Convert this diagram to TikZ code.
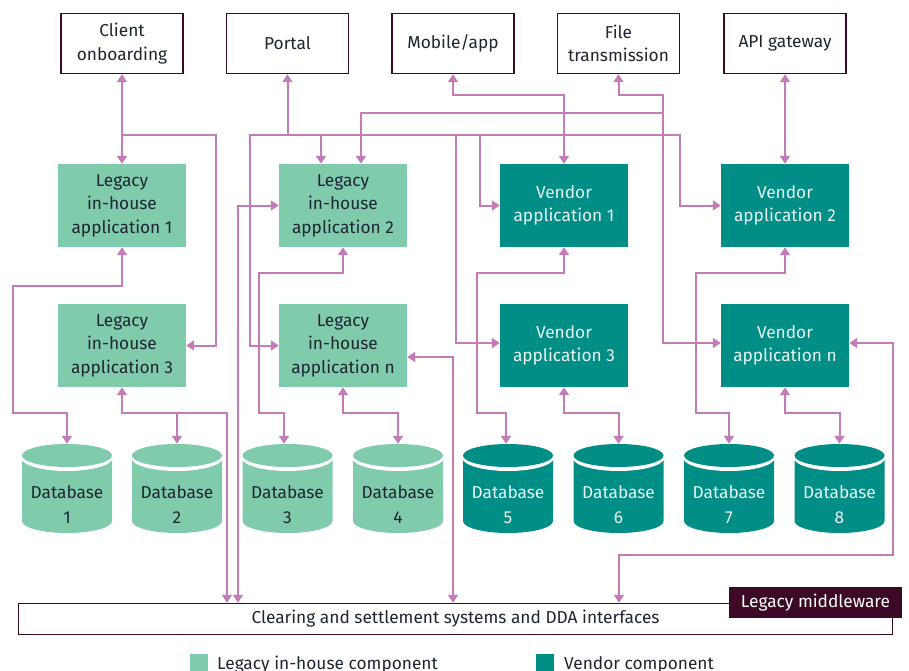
\documentclass[tikz,border=0pt]{standalone}
\usepackage{fontspec}
\setmainfont{Fira Sans}
\usetikzlibrary{arrows.meta}
\definecolor{pk}{HTML}{C47CB8}
\definecolor{lg}{HTML}{80CBAC}
\definecolor{vd}{HTML}{008E86}
\definecolor{mr}{HTML}{3C0A24}
\definecolor{tx}{HTML}{1E2533}
\definecolor{vt}{HTML}{E8F5F3}
\newcommand\fsz{\fontsize{17.3pt}{23.5pt}\selectfont}
\tikzset{
  conn/.style={draw=pk,line width=2pt},
  >={Triangle[length=8pt,width=10pt]},
  box/.style={inner sep=0pt,align=center,font=\fsz},
  topbox/.style={box,draw=mr,line width=1.5pt,fill=white,text=tx,minimum width=122pt,minimum height=60pt},
  legbox/.style={box,fill=lg,text=tx,minimum width=128pt,minimum height=83pt},
  venbox/.style={box,fill=vd,text=vt,minimum width=128pt,minimum height=83pt},
  dbn/.style={minimum width=90pt,minimum height=89pt,inner sep=0pt},
  dbt/.style={align=center,inner sep=0pt,font=\fontsize{17.3pt}{25pt}\selectfont},
  pics/dbcyl/.style={code={
    \fill[#1] (-45,-33.5) -- (-45,32.5) arc[start angle=180,end angle=360,x radius=45pt,y radius=12pt] -- (45,-33.5) -- cycle;
    \fill[white] (0,-31) ellipse[x radius=46pt,y radius=13.5pt];
    \fill[#1] (0,-33) ellipse[x radius=45pt,y radius=11.5pt];
  }}
}
\begin{document}
\begin{tikzpicture}[x=1pt,y=-1pt]
\useasboundingbox (0,0) rectangle (909,671);
% top boxes
\node[topbox] (co) at (122,43.5) {Client\\onboarding};
\node[topbox] (po) at (287.5,43.5) {Portal};
\node[topbox] (mo) at (453,43.5) {Mobile/app};
\node[topbox] (ft) at (618.5,43.5) {File\\transmission};
\node[topbox] (api) at (785,43.5) {API gateway};
% applications
\node[legbox] (l1) at (122,205.5) {Legacy\\in-house\\application 1};
\node[legbox] (l2) at (343,205.5) {Legacy\\in-house\\application 2};
\node[legbox] (l3) at (122,345.5) {Legacy\\in-house\\application 3};
\node[legbox] (ln) at (343,345.5) {Legacy\\in-house\\application n};
\node[venbox] (v1) at (564,205.5) {Vendor\\application 1};
\node[venbox] (v2) at (785,205.5) {Vendor\\application 2};
\node[venbox] (v3) at (564,345.5) {Vendor\\application 3};
\node[venbox] (vn) at (785,345.5) {Vendor\\application n};
% databases
\foreach \i/\x/\c/\t in {1/67/lg/tx,2/177/lg/tx,3/287.5/lg/tx,4/398/lg/tx,5/508/vd/vt,6/618.5/vd/vt,7/729/vd/vt,8/839.5/vd/vt}{
  \pic at (\x,488.5) {dbcyl=\c};
  \node[dbn] (db\i) at (\x,488.5) {};
  \node[dbt,text=\t] (db\i t) at (\x,504.5) {Database\\\i};
}
% bottom bar
\node[draw=mr,line width=1.5pt,fill=white,minimum width=874pt,minimum height=31pt,inner sep=0pt,font=\fsz,text=tx] (bar) at (455.5,619) {\raisebox{-1.5pt}{Clearing and settlement systems and DDA interfaces}};
\node[fill=mr,text=white,minimum width=173pt,minimum height=31pt,inner sep=0pt,font=\fsz] (mw) at (815.5,602.5) {Legacy middleware};
% helper coordinates
\coordinate (c227) at (227,0);
\coordinate (c238) at (238,0);
\coordinate (c453) at (453,0);
\coordinate (c619) at (619,0);
\coordinate (jco) at (122,135);
\coordinate (jpo) at (287.5,135);
% upper connectors
\draw[conn,<->] (co.south) -- (l1.north);
\draw[conn,->] (jco) -| (216,345.5) -- (l3.east);
\draw[conn,<-] (po.south) -- (jpo);
\draw[conn,<->] (ln.west) -| (250,135) -- (680,135) |- (v2.west);
\draw[conn,->] (321,135) -- ([xshift=-22pt]l2.north);
\draw[conn,->] (456,135) |- ([yshift=2.5pt]v3.west);
\draw[conn,->] (480,135) |- (v1.west);
\draw[conn,<->] (mo.south) |- (564,95) -- (v1.north);
\draw[conn,<->] (ft.south) |- (663,95) |- ([yshift=2.5pt]vn.west);
\draw[conn,->] (663,113) -| ([xshift=18pt]l2.north);
\draw[conn,<->] (api.south) -- (v2.north);
% lower connectors
\draw[conn,<->] (l1.south) |- (13,286) |- (67,413) -- (db1.north);
\draw[conn,<->] (l3.south) |- (227,413) -- (bar.north -| c227);
\draw[conn,->] (177,413) -- (db2.north);
\draw[conn,<->] (l2.west) -| (bar.north -| c238);
\draw[conn,<->] (l2.south) |- (259,273) |- (284,413) -- ([xshift=-3.5pt]db3.north);
\draw[conn,<->] (ln.south) |- (398,413) -- (db4.north);
\draw[conn,<->] ([yshift=-11.5pt]ln.east) -| (bar.north -| c453);
\draw[conn,<->] (v1.south) |- (477,273) |- (506,413) -- ([xshift=-2pt]db5.north);
\draw[conn,<->] (v3.south) |- (618.5,413) -- (db6.north);
\draw[conn,<->] (v2.south) |- (696,273) |- (729,413) -- (db7.north);
\draw[conn,<->] (vn.south) |- (839.5,413) -- (db8.north);
\draw[conn,<->] ([yshift=2.5pt]vn.east) -| (893,555) -| (bar.north -| c619);
% legend
\node[fill=lg,minimum size=18pt,inner sep=0pt] (k1) at (199,663) {};
\node[anchor=base west,inner sep=0pt,font=\fsz,text=tx] (k1t) at (217,669.5) {Legacy in-house component};
\node[fill=vd,minimum size=18pt,inner sep=0pt] (k2) at (545,663) {};
\node[anchor=base west,inner sep=0pt,font=\fsz,text=tx] (k2t) at (564,669.5) {Vendor component};
\end{tikzpicture}
\end{document}
